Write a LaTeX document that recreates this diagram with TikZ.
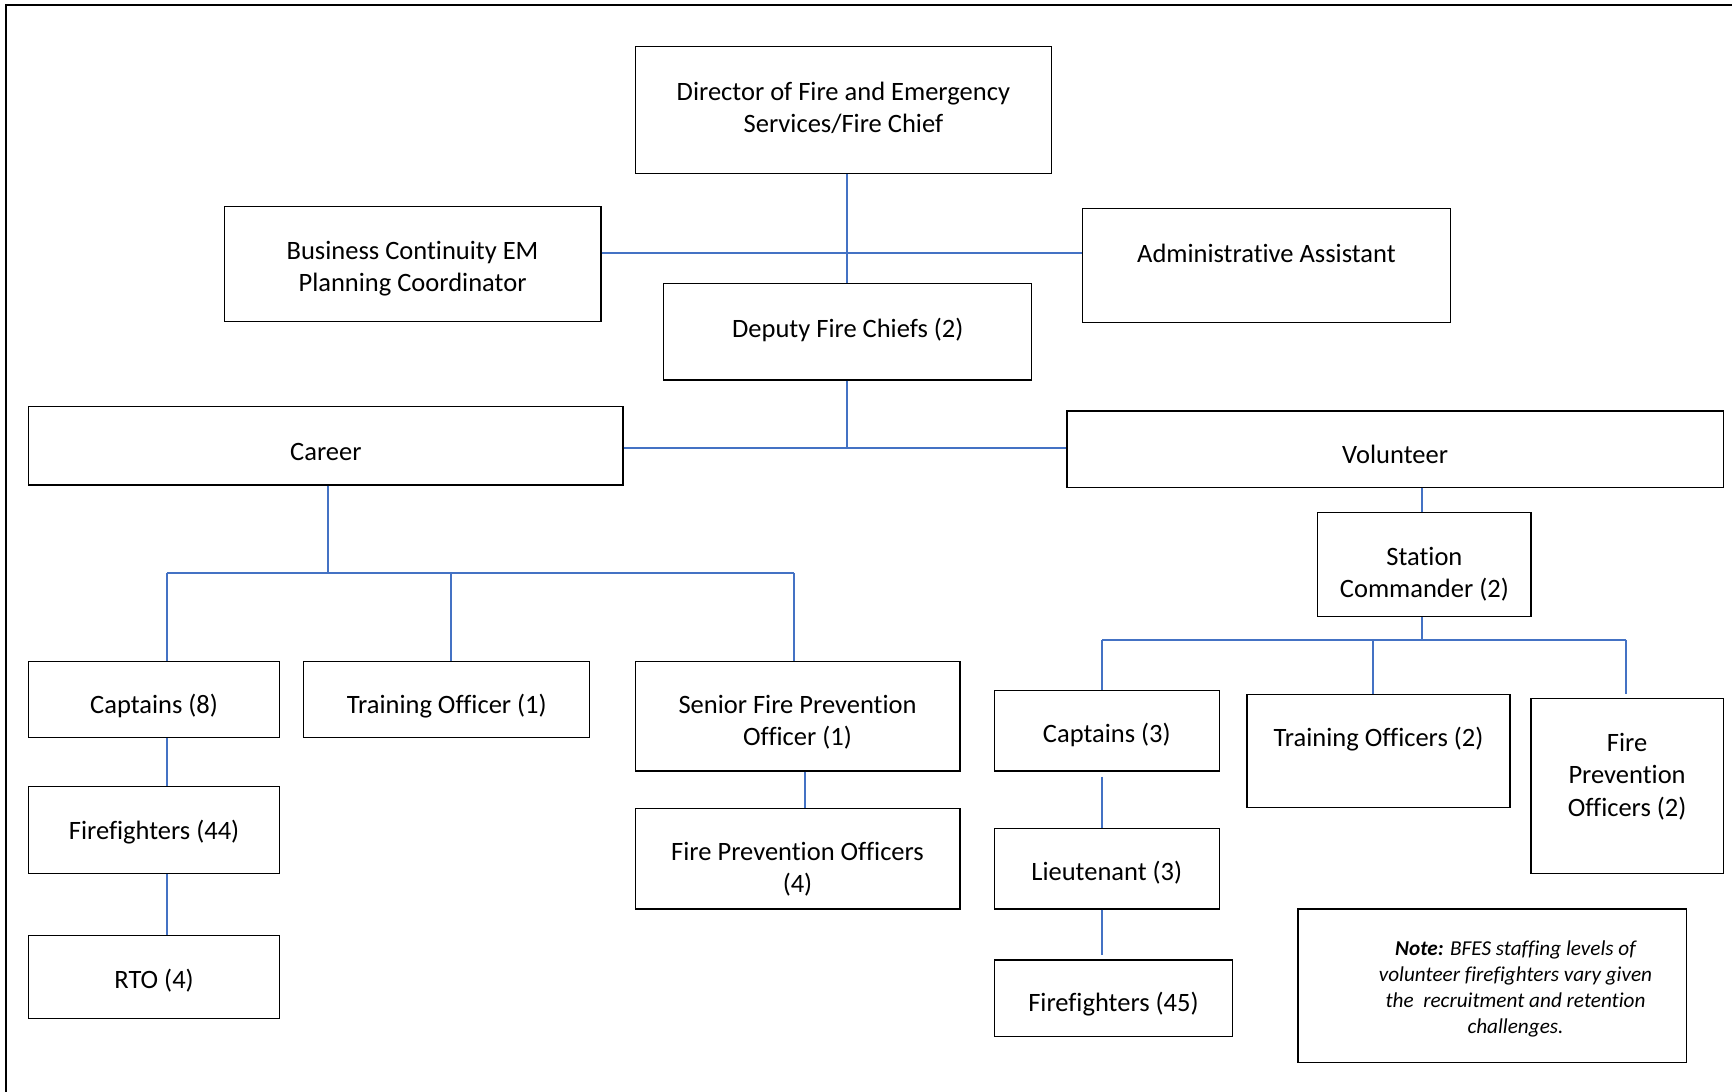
\documentclass[tikz,border=0pt]{standalone}
\usepackage{fontspec}
\setmainfont{Carlito}[Ligatures={NoCommon}]
\begin{document}
\begin{tikzpicture}[x=1pt,y=-1pt,
  box/.style={draw=black, line width=1.1pt, fill=white, inner sep=0pt},
  txt/.style={align=center, text=black, font=\fontsize{24}{29.3}\selectfont},
  notetxt/.style={align=center, text=black, font=\fontsize{19.2}{23.7}\selectfont\itshape},
  conn/.style={draw={rgb,255:red,68;green,114;blue,196}, line width=1.8pt},
  frame/.style={draw=black, line width=1.8pt}]
\useasboundingbox (0,0) rectangle (1568,988);
\draw[frame] (5.5,990) -- (5.5,4.5) -- (1570,4.5);

% top level
\node[box, minimum width=377pt, minimum height=115pt,
  label={[txt,yshift=2pt]center:Director of Fire and Emergency\\Services/Fire Chief}] (dir) at (763.5,99.5) {};
\node[box, minimum width=341pt, minimum height=104pt,
  label={[txt,yshift=-4pt]center:Business Continuity EM\\Planning Coordinator}] (bc) at (373.5,239) {};
\node[box, minimum width=333pt, minimum height=103pt,
  label={[txt,yshift=11pt]center:Administrative Assistant}] (adm) at (1146.5,240.5) {};
\node[box, minimum width=333pt, minimum height=87pt,
  label={[txt,yshift=2pt]center:Deputy Fire Chiefs (2)}] (dep) at (767.5,300.5) {};

% second level
\node[box, minimum width=538pt, minimum height=71pt,
  label={[txt,yshift=-5.5pt]center:Career}] (car) at (295,403.5) {};
\node[box, minimum width=594pt, minimum height=69pt,
  label={[txt,yshift=-5pt]center:Volunteer}] (vol) at (1263,406.5) {};

% career branch
\node[box, minimum width=227pt, minimum height=69pt,
  label={[txt,yshift=-5.5pt]center:Captains (8)}] (cap8) at (139.5,633.5) {};
\node[box, minimum width=259pt, minimum height=69pt,
  label={[txt,yshift=-5.5pt]center:Training Officer (1)}] (tro) at (404.5,633.5) {};
\node[box, minimum width=294pt, minimum height=99pt,
  label={[txt,yshift=-5.5pt]center:Senior Fire Prevention\\Officer (1)}] (sfpo) at (722,648.5) {};
\node[box, minimum width=227pt, minimum height=79pt,
  label={[txt,yshift=-1.5pt]center:Firefighters (44)}] (ff44) at (139.5,751.5) {};
\node[box, minimum width=294pt, minimum height=91pt,
  label={[txt,yshift=-9.5pt]center:Fire Prevention Officers\\(4)}] (fpo4) at (722,777.5) {};
\node[box, minimum width=227pt, minimum height=75pt,
  label={[txt,yshift=-3.5pt]center:RTO (4)}] (rto) at (139.5,884.5) {};

% volunteer branch
\node[box, minimum width=193pt, minimum height=94pt,
  label={[txt,yshift=-9pt]center:Station\\Commander (2)}] (sc) at (1289.5,511) {};
\node[box, minimum width=204pt, minimum height=73pt,
  label={[txt,yshift=-3.5pt]center:Captains (3)}] (cap3) at (1002,661.5) {};
\node[box, minimum width=238pt, minimum height=102pt,
  label={[txt,yshift=11pt]center:Training Officers (2)}] (tos) at (1248,680) {};
\node[box, minimum width=174pt, minimum height=159pt,
  label={[txt,yshift=8.5pt]center:Fire\\Prevention\\Officers (2)}] (fpos) at (1473,711.5) {};
\node[box, minimum width=204pt, minimum height=73pt,
  label={[txt,yshift=-3.5pt]center:Lieutenant (3)}] (lt) at (1002,786.5) {};
\node[box, minimum width=216pt, minimum height=69pt,
  label={[txt,yshift=-5.5pt]center:Firefighters (45)}] (ff45) at (1008,903.5) {};

% note
\node[box, minimum width=352pt, minimum height=139pt,
  label={[notetxt,xshift=21pt,yshift=-3pt]center:\textbf{Note:} BFES staffing levels of\\volunteer firefighters vary given\\the\ \ recruitment and retention\\challenges.}] (note) at (1351,892.5) {};

% connector junctions
\coordinate (h1) at (767,229);
\coordinate (h2) at (767,406);
\coordinate (j3) at (297,519);
\coordinate (b1) at (151,519);
\coordinate (b2) at (719,519);
\coordinate (b3) at (408,519);
\coordinate (f1) at (729,715);
\coordinate (v0) at (1287,579);
\coordinate (v1) at (998,579);
\coordinate (v2) at (1472,579);
\coordinate (v3) at (1243,579);

% connectors
\draw[conn] (dir.south -| h1) -- (dep.north -| h1);
\draw[conn] (bc.east |- h1) -- (adm.west |- h1);
\draw[conn] (dep.south -| h2) -- (h2);
\draw[conn] (car.east |- h2) -- (vol.west |- h2);
\draw[conn] (car.south -| j3) -- (j3);
\draw[conn] (b1) -- (b2);
\draw[conn] (b1) -- (b1 |- cap8.north);
\draw[conn] (b3) -- (b3 |- tro.north);
\draw[conn] (b2) -- (b2 |- sfpo.north);
\draw[conn] (b1 |- cap8.south) -- (b1 |- ff44.north);
\draw[conn] (b1 |- ff44.south) -- (b1 |- rto.north);
\draw[conn] (sfpo.south -| f1) -- (fpo4.north -| f1);
\draw[conn] (vol.south -| v0) -- (sc.north -| v0);
\draw[conn] (sc.south -| v0) -- (v0);
\draw[conn] (v1) -- (v2);
\draw[conn] (v1) -- (v1 |- cap3.north);
\draw[conn] (v3) -- (v3 |- tos.north);
\draw[conn, shorten >=3pt] (v2) -- (v2 |- fpos.north);
\draw[conn, shorten <=4.5pt] (v1 |- cap3.south) -- (v1 |- lt.north);
\draw[conn, shorten >=4pt] (v1 |- lt.south) -- (v1 |- ff45.north);
\end{tikzpicture}
\end{document}
